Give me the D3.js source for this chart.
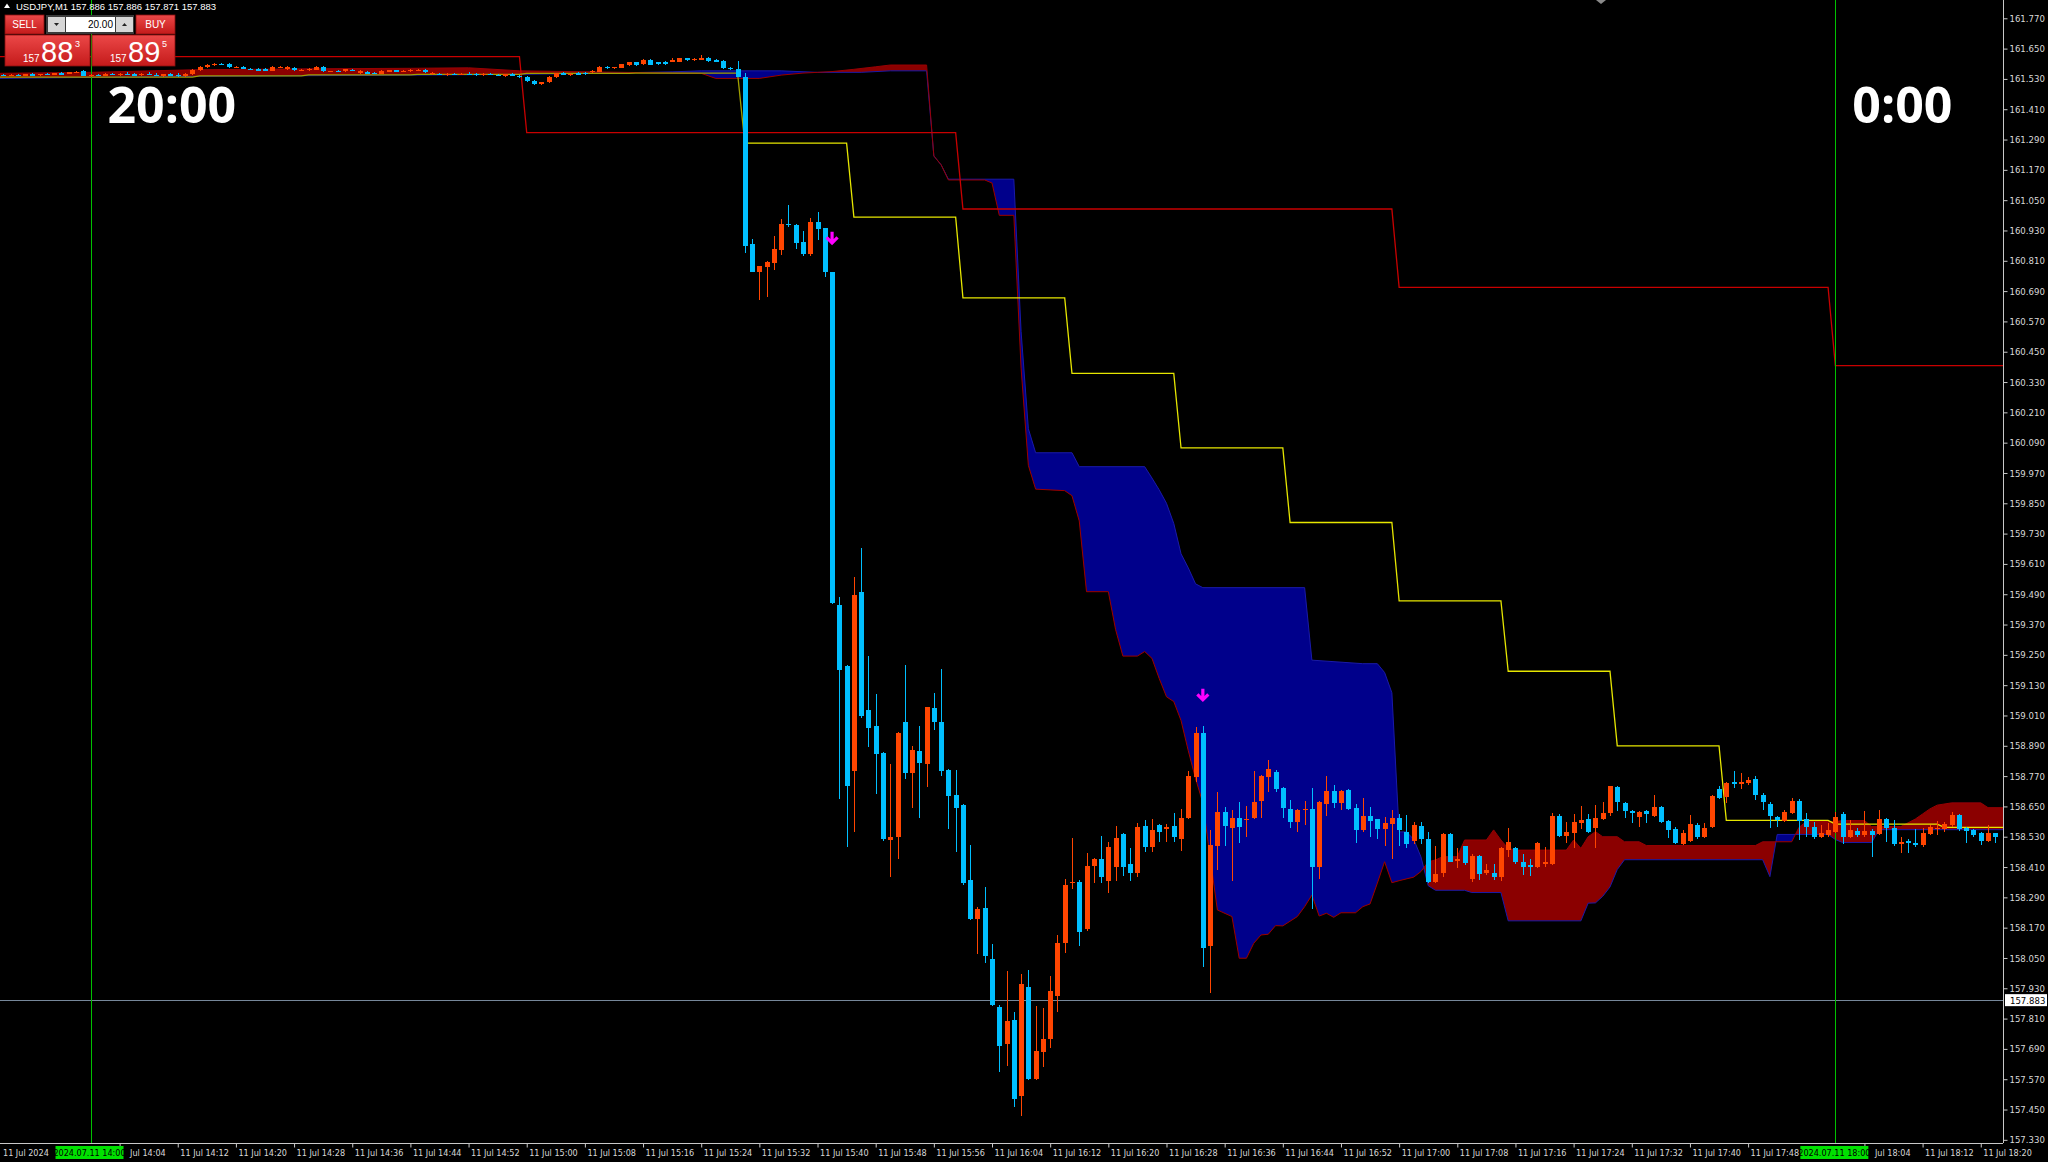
<!DOCTYPE html>
<html>
<head>
<meta charset="utf-8">
<script src="https://cdn.jsdelivr.net/npm/d3@7"></script>
<style>
  body { margin: 0; background: #000; overflow: hidden; }
  svg { display: block; }
</style>
</head>
<body>
<svg id="chart" width="2048" height="1162"></svg>
<script>
// USDJPY M1, 11 Jul 2024. bar k = minute (k - 12) after 14:00
const firstMinute = -12;

var openP = [
161.546,161.543,161.546,161.544,161.548,161.546,161.549,161.547,161.552,161.550,
161.556,161.560,161.542,161.547,161.543,161.549,161.546,161.551,161.548,161.545,
161.550,161.547,161.542,161.548,161.546,161.541,161.549,161.565,161.578,161.585,
161.588,161.588,161.577,161.579,161.571,161.570,161.571,161.563,161.577,161.568,
161.573,161.563,161.565,161.566,161.577,161.560,161.562,161.561,161.567,161.553,
161.559,161.555,161.551,161.562,161.564,161.558,161.561,161.562,161.567,161.551,
161.549,161.547,161.550,161.548,161.551,161.549,161.545,161.550,161.547,161.543,
161.548,161.541,161.537,161.521,161.509,161.516,161.536,161.552,161.546,161.554,
161.553,161.557,161.559,161.579,161.572,161.575,161.585,161.595,161.588,161.605,
161.595,161.595,161.598,161.598,161.611,161.603,161.605,161.611,161.604,161.602,
161.574,161.570,161.539,160.876,160.767,160.787,160.800,160.853,160.955,160.952,
160.883,160.836,160.965,160.939,160.767,159.447,159.206,158.792,159.498,159.030,
158.969,158.863,158.518,158.528,158.984,158.781,158.868,158.819,159.038,158.984,
158.793,158.695,158.656,158.357,158.203,158.247,158.045,157.855,157.709,157.804,
157.505,157.937,157.572,157.679,157.731,157.898,158.108,158.345,158.351,158.163,
158.413,158.440,158.356,158.412,158.541,158.422,158.388,158.573,158.491,158.576,
158.562,158.573,158.520,158.603,158.768,158.939,158.099,158.495,158.629,158.566,
158.605,158.595,158.603,158.672,158.768,158.788,158.722,158.638,158.590,158.636,
158.638,158.412,158.660,158.711,158.665,158.715,158.642,158.557,158.612,158.599,
158.559,158.580,158.605,158.550,158.513,158.573,158.521,158.349,158.385,158.541,
158.436,158.493,158.361,158.454,158.386,158.388,158.369,158.477,158.484,158.431,
158.418,158.409,158.421,158.422,158.612,158.534,158.546,158.583,158.599,158.563,
158.599,158.623,158.728,158.665,158.632,158.609,158.632,158.612,158.649,158.594,
158.559,158.501,158.514,158.576,158.528,158.567,158.718,158.686,158.745,158.737,
158.741,158.757,158.695,158.660,158.609,158.594,158.625,158.671,158.599,158.567,
158.530,158.537,158.550,158.620,158.530,158.554,158.537,158.554,158.541,158.599,
158.563,158.501,158.514,158.506,158.497,158.541,158.563,158.559,158.576,158.616,
158.563,158.557,158.543,158.514,158.543];

var highP = [
161.549,161.548,161.550,161.549,161.552,161.551,161.553,161.555,161.556,161.558,
161.562,161.566,161.550,161.551,161.552,161.554,161.553,161.556,161.553,161.552,
161.556,161.553,161.550,161.555,161.552,161.552,161.568,161.582,161.588,161.592,
161.593,161.592,161.583,161.582,161.575,161.574,161.575,161.580,161.582,161.582,
161.576,161.568,161.574,161.580,161.580,161.563,161.566,161.571,161.569,161.566,
161.562,161.558,161.566,161.566,161.567,161.565,161.568,161.569,161.570,161.556,
161.553,161.552,161.555,161.553,161.556,161.554,161.552,161.555,161.551,161.550,
161.552,161.546,161.540,161.524,161.519,161.542,161.555,161.556,161.554,161.557,
161.557,161.566,161.580,161.583,161.579,161.590,161.597,161.598,161.607,161.608,
161.598,161.599,161.611,161.614,161.614,161.612,161.625,161.618,161.607,161.605,
161.578,161.600,161.555,160.895,160.790,160.810,160.908,160.975,161.031,160.955,
160.929,160.978,161.004,160.940,160.767,159.478,159.210,159.559,159.672,159.246,
159.096,158.866,158.818,158.945,159.210,158.888,158.969,159.045,159.099,159.192,
158.800,158.796,158.660,158.497,158.252,158.331,158.104,157.865,157.999,157.837,
157.987,158.002,157.861,157.850,157.977,158.141,158.364,158.524,158.360,158.464,
158.445,158.533,158.510,158.572,158.546,158.487,158.586,158.596,158.599,158.580,
158.580,158.623,158.639,158.792,158.963,158.968,158.557,158.708,158.649,158.636,
158.669,158.652,158.790,158.775,158.834,158.794,158.725,158.675,158.640,158.671,
158.722,158.670,158.771,158.735,158.715,158.718,158.658,158.685,158.649,158.600,
158.609,158.636,158.620,158.616,158.590,158.590,158.547,158.493,158.545,158.545,
158.484,158.495,158.460,158.458,158.422,158.422,158.491,158.563,158.490,158.462,
158.442,158.510,158.488,158.625,158.620,158.590,158.620,158.652,158.620,158.655,
158.669,158.731,158.731,158.668,158.635,158.630,158.635,158.695,158.652,158.597,
158.567,158.556,158.616,158.583,158.586,158.695,158.731,158.748,158.790,158.781,
158.768,158.770,158.702,158.669,158.612,158.636,158.682,158.678,158.625,158.590,
158.576,158.583,158.629,158.629,158.596,158.563,158.633,158.560,158.636,158.605,
158.596,158.530,158.520,158.560,158.563,158.576,158.593,158.590,158.629,158.620,
158.567,158.560,158.548,158.576,158.546];

var lowP = [
161.541,161.540,161.542,161.541,161.544,161.543,161.545,161.546,161.548,161.549,
161.553,161.540,161.538,161.540,161.541,161.544,161.542,161.546,161.543,161.541,
161.546,161.540,161.538,161.544,161.539,161.538,161.546,161.562,161.574,161.582,
161.584,161.574,161.572,161.568,161.566,161.560,161.560,161.560,161.574,161.566,
161.562,161.560,161.562,161.564,161.558,161.557,161.560,161.558,161.562,161.550,
161.548,161.550,161.549,161.560,161.557,161.556,161.559,161.560,161.555,161.545,
161.544,161.543,161.546,161.544,161.547,161.543,161.541,161.545,161.540,161.539,
161.540,161.535,161.517,161.505,161.506,161.514,161.533,161.544,161.543,161.545,
161.547,161.555,161.557,161.570,161.570,161.573,161.583,161.583,161.586,161.584,
161.585,161.586,161.596,161.596,161.602,161.600,161.603,161.598,161.596,161.570,
161.566,161.537,160.842,160.765,160.655,160.668,160.774,160.833,160.945,160.857,
160.829,160.830,160.892,160.745,159.450,158.680,158.491,158.550,159.000,158.886,
158.699,158.513,158.369,158.442,158.757,158.643,158.603,158.725,158.951,158.771,
158.562,158.468,158.337,158.200,158.066,158.029,157.860,157.600,157.624,157.459,
157.426,157.565,157.568,157.620,157.694,157.835,158.069,158.323,158.096,158.156,
158.346,158.345,158.306,158.356,158.376,158.356,158.369,158.471,158.471,158.510,
158.510,158.510,158.475,158.600,158.748,158.016,157.910,158.398,158.495,158.356,
158.506,158.528,158.600,158.603,158.708,158.708,158.603,158.563,158.550,158.576,
158.243,158.361,158.612,158.642,158.636,158.635,158.506,158.550,158.528,158.521,
158.495,158.442,158.495,158.484,158.500,158.500,158.345,158.345,158.372,158.430,
158.405,158.418,158.350,158.360,158.380,158.359,158.356,158.451,158.422,158.379,
158.375,158.405,158.410,158.418,158.530,158.507,158.484,158.559,158.543,158.484,
158.596,158.612,158.632,158.603,158.583,158.567,158.586,158.610,158.583,158.524,
158.501,158.498,158.510,158.520,158.525,158.563,158.680,158.665,158.722,158.718,
158.735,158.675,158.636,158.563,158.567,158.590,158.620,158.517,158.530,158.520,
158.525,158.530,158.545,158.500,158.525,158.530,158.530,158.451,158.535,158.510,
158.495,158.465,158.465,158.490,158.490,158.535,158.537,158.550,158.570,158.553,
158.507,158.530,158.497,158.510,158.507];

var closeP = [
161.543,161.546,161.544,161.548,161.546,161.549,161.547,161.552,161.550,161.556,
161.559,161.542,161.547,161.543,161.549,161.546,161.551,161.548,161.545,161.550,
161.547,161.542,161.548,161.546,161.541,161.550,161.565,161.578,161.585,161.588,
161.587,161.577,161.579,161.571,161.569,161.562,161.563,161.578,161.579,161.578,
161.565,161.566,161.570,161.576,161.560,161.561,161.561,161.568,161.563,161.562,
161.550,161.552,161.563,161.564,161.558,161.563,161.566,161.567,161.557,161.554,
161.547,161.550,161.548,161.551,161.549,161.545,161.550,161.547,161.543,161.548,
161.541,161.537,161.520,161.509,161.516,161.539,161.552,161.546,161.551,161.547,
161.549,161.563,161.578,161.572,161.577,161.588,161.595,161.585,161.605,161.586,
161.588,161.588,161.604,161.611,161.605,161.609,161.614,161.600,161.598,161.574,
161.570,161.539,160.870,160.767,160.789,160.804,160.857,160.956,160.950,160.879,
160.836,160.965,160.936,160.767,159.455,159.191,158.729,159.487,159.009,158.960,
158.859,158.521,158.530,158.941,158.781,158.874,158.823,159.042,158.984,158.790,
158.692,158.644,158.345,158.203,158.242,158.059,157.862,157.701,157.801,157.490,
157.947,157.570,157.682,157.731,157.920,158.110,158.339,158.350,158.153,158.416,
158.442,158.369,158.491,158.524,158.412,158.388,158.570,158.491,158.557,158.550,
158.568,158.530,158.605,158.771,158.939,158.088,158.497,158.629,158.574,158.605,
158.570,158.600,158.666,158.771,158.797,158.718,158.642,158.590,158.636,158.640,
158.412,158.666,158.711,158.665,158.711,158.638,158.557,158.612,158.592,158.559,
158.586,158.605,158.557,158.500,158.576,158.521,158.349,158.382,158.541,158.431,
158.440,158.427,158.454,158.383,158.399,158.372,158.484,158.510,158.431,158.409,
158.409,158.506,158.431,158.612,158.534,158.550,158.590,158.596,158.550,158.606,
158.625,158.731,158.669,158.633,158.623,158.629,158.619,158.649,158.587,158.557,
158.504,158.543,158.580,158.528,158.566,158.691,158.682,158.744,158.741,158.748,
158.755,158.695,158.669,158.612,158.596,158.629,158.671,158.594,158.567,158.530,
158.543,158.557,158.609,158.530,158.557,158.537,158.554,158.537,158.599,158.563,
158.501,158.510,158.506,158.497,158.543,158.567,158.564,158.580,158.616,158.559,
158.554,158.537,158.514,158.543,158.528];

// Ichimoku cloud spans [minute after 14:00, price]
var spanA = [[-13,161.552],[0,161.556],[14,161.566],[30,161.570],[44,161.572],[52,161.574],
[59,161.562],[71,161.557],[80,161.553],[84,161.552],[86,161.532],[92,161.532],[95,161.545],
[98,161.553],[102,161.559],[105,161.568],[108,161.578],[110,161.585],[115,161.585],
[116,161.225],[117,161.19],[118,161.13],[123,161.13],[124,161.118],[125,160.99],[127,160.99],
[128,160.385],[129,160.0],[130,159.906],[134,159.9],[135,159.88],[136,159.78],[137,159.5],
[140,159.5],[141,159.35],[142,159.245],[144,159.245],[145,159.263],[146,159.236],[147,159.156],
[148,159.084],[149,159.065],[150,158.99],[151,158.87],[152,158.76],[153,158.664],[154,158.45],
[155,158.24],[157,158.214],[158,158.049],[159,158.049],[160,158.108],[161,158.141],[162,158.144],
[163,158.178],[164,158.177],[166,158.214],[167,158.253],[168,158.299],[169,158.216],[170,158.227],
[171,158.211],[172,158.229],[174,158.229],[175,158.253],[176,158.264],[177,158.346],[178,158.431],
[179,158.348],[180,158.356],[182,158.37],[183,158.392],[184,158.431],[185,158.438],[186,158.451],
[188,158.451],[189,158.517],[192,158.517],[193,158.557],[194,158.517],[195,158.484],[196,158.477],
[203,158.477],[204,158.517],[205,158.484],[206,158.53],[207,158.55],[208,158.53],[210,158.53],
[211,158.51],[213,158.51],[214,158.495],[229,158.495],[230,158.51],[234,158.51],[235,158.567],
[236,158.59],[240,158.59],[241,158.594],[244,158.594],[245,158.57],[249,158.57],[250,158.585],
[251,158.6],[252,158.62],[253,158.64],[254,158.655],[256,158.664],[260,158.664],[261,158.645],
[264,158.645]];

var spanB = [[-13,161.532],[0,161.536],[14,161.54],[44,161.545],[59,161.548],[71,161.553],
[80,161.558],[84,161.562],[95,161.562],[100,161.556],[106,161.556],[110,161.562],[115,161.562],
[116,161.225],[117,161.19],[118,161.133],[127,161.133],[128,160.53],[129,160.145],[130,160.05],
[135,160.05],[136,159.995],[145,159.995],[146,159.95],[147,159.903],[148,159.85],[149,159.77],
[150,159.65],[151,159.594],[152,159.531],[153,159.516],[167,159.516],[168,159.229],[175,159.215],
[177,159.215],[178,159.18],[179,159.10],[180,158.549],[181,158.549],[182,158.52],[183,158.45],
[184,158.336],[185,158.318],[189,158.318],[190,158.309],[194,158.309],[195,158.197],[205,158.197],
[206,158.267],[207,158.268],[208,158.294],[209,158.331],[210,158.40],[211,158.439],[230,158.439],
[231,158.372],[232,158.539],[239,158.539],[240,158.519],[241,158.507],[245,158.507],[246,158.558],
[264,158.558]];

// higher timeframe step lines [first minute of step, price]
var redSteps = [[-13,161.618],[60,161.317],[120,161.015],[180,160.705],[240,160.395]];
var yellowSteps = [[-13,161.537],[15,161.542],[30,161.546],[45,161.548],[60,161.552],[75,161.553],
[90,161.276],[105,160.983],[120,160.663],[135,160.364],[150,160.069],[165,159.774],[180,159.464],
[195,159.185],[210,158.89],[225,158.595],[240,158.58],[255,158.567]];
var stepEnd = 264;

var sellArrows = [[102,160.873],[153,159.064]];
var bidPrice = 157.883;
var sessionMarks = [{min: 0, text: "20:00", stamp: "2024.07.11 14:00"}, {min: 240, text: "0:00", stamp: "2024.07.11 18:00"}];

var yTickLabels = ["157.330","157.450","157.570","157.690","157.810","157.930","158.050","158.170",
"158.290","158.410","158.530","158.650","158.770","158.890","159.010","159.130","159.250","159.370",
"159.490","159.610","159.730","159.850","159.970","160.090","160.210","160.330","160.450","160.570",
"160.690","160.810","160.930","161.050","161.170","161.290","161.410","161.530","161.650","161.770"];

var xTickTimes = ["14:04","14:12","14:20","14:28","14:36","14:44","14:52","15:00","15:08","15:16",
"15:24","15:32","15:40","15:48","15:56","16:04","16:12","16:20","16:28","16:36","16:44","16:52",
"17:00","17:08","17:16","17:24","17:32","17:40","17:48","18:04","18:12","18:20"];
var xTickLabels = ["Jul 14:04","11 Jul 14:12","11 Jul 14:20","11 Jul 14:28","11 Jul 14:36","11 Jul 14:44",
"11 Jul 14:52","11 Jul 15:00","11 Jul 15:08","11 Jul 15:16","11 Jul 15:24","11 Jul 15:32","11 Jul 15:40",
"11 Jul 15:48","11 Jul 15:56","11 Jul 16:04","11 Jul 16:12","11 Jul 16:20","11 Jul 16:28","11 Jul 16:36",
"11 Jul 16:44","11 Jul 16:52","11 Jul 17:00","11 Jul 17:08","11 Jul 17:16","11 Jul 17:24","11 Jul 17:32",
"11 Jul 17:40","11 Jul 17:48","Jul 18:04","11 Jul 18:12","11 Jul 18:20"];

// ---------------------------------------------------------------
var W = 2048, H = 1162, plotR = 2003, plotB = 1143;
var base = new Date(2024, 6, 11, 14, 0);
function tAt(m) { return new Date(+base + m * 60000); }
function parseHM(s) { var p = s.split(":"); return (+p[0] - 14) * 60 + (+p[1]); }

var x = d3.scaleTime().domain([tAt(-12.45), tAt(263.06)]).range([0, plotR]);
var y = d3.scaleLinear().domain([157.3175, 161.8424]).range([plotB, 0]);
var xm = function(m) { return x(tAt(m)); };

var svg = d3.select("#chart");
svg.append("rect").attr("width", W).attr("height", H).attr("fill", "#000");

var defs = svg.append("defs");
defs.append("clipPath").attr("id", "plot").append("rect")
    .attr("width", plotR).attr("height", plotB);

var line = d3.line().x(function(d) { return xm(d[0]); }).y(function(d) { return y(d[1]); });

var first = spanA[0][0], last = spanA[spanA.length - 1][0];
defs.append("clipPath").attr("id", "aboveA").append("path")
    .attr("d", line(spanA) + "L" + xm(last) + ",0L" + xm(first) + ",0Z");
defs.append("clipPath").attr("id", "belowA").append("path")
    .attr("d", line(spanA) + "L" + xm(last) + "," + plotB + "L" + xm(first) + "," + plotB + "Z");

var plot = svg.append("g").attr("clip-path", "url(#plot)");

// cloud
var cloud = line(spanA.concat(spanB.slice().reverse())) + "Z";
plot.append("g").attr("clip-path", "url(#aboveA)")
  .append("path").attr("d", cloud).attr("fill", "#00008b");
plot.append("g").attr("clip-path", "url(#belowA)")
  .append("path").attr("d", cloud).attr("fill", "#8b0000");
plot.append("path").attr("d", line(spanB)).attr("fill", "none").attr("stroke", "#1a1aa8").attr("stroke-width", 1);
plot.append("path").attr("d", line(spanA)).attr("fill", "none").attr("stroke", "#9a0000").attr("stroke-width", 1);

function stepPoints(steps) {
  var pts = [];
  steps.forEach(function(s, k) {
    var end = k < steps.length - 1 ? steps[k + 1][0] - 1 : stepEnd;
    pts.push([s[0], s[1]], [end, s[1]]);
  });
  return pts;
}
plot.append("path").attr("d", line(stepPoints(redSteps)))
    .attr("fill", "none").attr("stroke", "#c80000").attr("stroke-width", 1.3);
plot.append("path").attr("d", line(stepPoints(yellowSteps.slice(6))))
    .attr("fill", "none").attr("stroke", "#e6e600").attr("stroke-width", 1.3);
plot.append("path").attr("d", line(stepPoints(yellowSteps.slice(0, 7)).slice(0, 13)))
    .attr("fill", "none").attr("stroke", "#a0a000").attr("stroke-width", 1.3);

// bid line
plot.append("line").attr("x1", 0).attr("x2", plotR)
    .attr("y1", Math.round(y(bidPrice)) + 0.5).attr("y2", Math.round(y(bidPrice)) + 0.5)
    .attr("stroke", "#76879a").attr("stroke-width", 1);

// period separators
plot.selectAll("line.sep").data(sessionMarks).enter().append("line")
    .attr("x1", function(d) { return Math.round(xm(d.min)) + 0.5; })
    .attr("x2", function(d) { return Math.round(xm(d.min)) + 0.5; })
    .attr("y1", 0).attr("y2", plotB)
    .attr("stroke", "#00c000").attr("stroke-width", 1);

// candles
var bars = openP.map(function(o, k) {
  return { m: k + firstMinute, o: o, h: highP[k], l: lowP[k], c: closeP[k] };
});
var bullC = "#ff4500", bearC = "#00bfff";
var cg = plot.append("g").attr("shape-rendering", "crispEdges");
var bar = cg.selectAll("g").data(bars).enter().append("g");
bar.append("line")
    .attr("x1", function(d) { return Math.round(xm(d.m)) + 0.5; })
    .attr("x2", function(d) { return Math.round(xm(d.m)) + 0.5; })
    .attr("y1", function(d) { return y(d.h); })
    .attr("y2", function(d) { return y(d.l); })
    .attr("stroke", function(d) { return d.c >= d.o ? bullC : bearC; });
bar.append("rect")
    .attr("x", function(d) { return Math.round(xm(d.m)) - 2; })
    .attr("width", 5)
    .attr("y", function(d) { return y(Math.max(d.o, d.c)); })
    .attr("height", function(d) { return Math.max(1.2, Math.abs(y(d.o) - y(d.c))); })
    .attr("fill", function(d) { return d.c >= d.o ? bullC : bearC; });

// sell arrows
plot.selectAll("path.arrow").data(sellArrows).enter().append("path")
    .attr("transform", function(d) { return "translate(" + xm(d[0]) + "," + y(d[1]) + ")"; })
    .attr("d", "M0,-13V-2M-5.5,-7.5L0,-2L5.5,-7.5")
    .attr("fill", "none").attr("stroke", "#ff00ff").attr("stroke-width", 3.2)
    .attr("stroke-linejoin", "miter");

// session time labels
svg.selectAll("text.sess").data(sessionMarks).enter().append("text")
    .attr("x", function(d) { return xm(d.min) + 17; })
    .attr("y", 123)
    .attr("fill", "#fff")
    .style("font", "bold 50px 'Open Sans', 'DejaVu Sans', sans-serif")
    .text(function(d) { return d.text; });

// chart shift marker
svg.append("path").attr("d", "M1596,0L1606,0L1601,4Z").attr("fill", "#8a8a8a");

// right price axis
var axisFont = "'Liberation Sans Narrow', 'DejaVu Sans Condensed', sans-serif";
var yAxis = d3.axisRight(y)
    .tickValues(yTickLabels.map(Number))
    .tickFormat(function(d, k) { return yTickLabels[k]; })
    .tickSize(4).tickSizeOuter(0);
var ya = svg.append("g").attr("transform", "translate(" + (plotR + 0.5) + ",0)").call(yAxis);
ya.select(".domain").attr("stroke", "#c8c8c8").attr("d", "M0,0V" + plotB);
ya.selectAll(".tick line").attr("stroke", "#c8c8c8");
ya.selectAll(".tick text").attr("fill", "#d8d8d8").attr("x", 6)
    .style("font-family", axisFont).style("font-size", "9.5px");

// bid label
var bg = svg.append("g").attr("transform", "translate(" + (plotR + 2) + "," + y(bidPrice) + ")");
bg.append("rect").attr("x", 0).attr("y", -6).attr("width", 42).attr("height", 12).attr("fill", "#fff");
bg.append("text").attr("x", 5).attr("y", 3.5).attr("fill", "#000")
    .style("font-family", axisFont).style("font-size", "9.5px").text(bidPrice.toFixed(3));

// bottom time axis
var xAxis = d3.axisBottom(x)
    .tickValues(xTickTimes.map(function(s) { return tAt(parseHM(s)); }))
    .tickFormat(function(d, k) { return xTickLabels[k]; })
    .tickSize(4).tickSizeOuter(0);
var xa = svg.append("g").attr("transform", "translate(0," + (plotB + 0.5) + ")").call(xAxis);
xa.select(".domain").attr("stroke", "#c8c8c8").attr("d", "M0,0H" + plotR);
xa.selectAll(".tick line").attr("stroke", "#c8c8c8");
xa.selectAll(".tick text").attr("fill", "#d8d8d8").attr("text-anchor", "start")
    .attr("x", function(d, k) { return xTickLabels[k].indexOf("Jul") === 0 ? 10 : 2; })
    .attr("y", 6).attr("dy", "0.71em")
    .style("font-family", axisFont).style("font-size", "9px");
svg.append("text").attr("x", 3).attr("y", plotB + 13).attr("fill", "#d8d8d8")
    .style("font-family", axisFont).style("font-size", "9px").text("11 Jul 2024");

var stamps = svg.selectAll("g.stamp").data(sessionMarks).enter().append("g")
    .attr("transform", function(d) { return "translate(" + xm(d.min) + "," + (plotB + 3) + ")"; });
stamps.append("rect").attr("x", -35).attr("y", 0).attr("width", 68).attr("height", 13).attr("fill", "#00e000");
stamps.append("text").attr("x", -1).attr("y", 10).attr("text-anchor", "middle").attr("fill", "#000")
    .style("font-family", axisFont).style("font-size", "9px").text(function(d) { return d.stamp; });

// header and one-click trading panel
var hdr = svg.append("g");
hdr.append("path").attr("d", "M4,8L7,3.5L10,8Z").attr("fill", "#fff");
hdr.append("text").attr("x", 16).attr("y", 10).attr("fill", "#fff")
    .style("font", "9.5px 'Liberation Sans', 'DejaVu Sans', sans-serif")
    .text("USDJPY,M1  157.886 157.886 157.871 157.883");

var grad = defs.append("linearGradient").attr("id", "redg").attr("x1", 0).attr("y1", 0).attr("x2", 0).attr("y2", 1);
grad.append("stop").attr("offset", 0).attr("stop-color", "#ec4848");
grad.append("stop").attr("offset", 1).attr("stop-color", "#c41a1a");

var panel = svg.append("g").style("font-family", "'Liberation Sans', 'DejaVu Sans', sans-serif");
[[5, 44], [136, 175]].forEach(function(b) {
  panel.append("rect").attr("x", b[0]).attr("y", 15).attr("width", b[1] - b[0]).attr("height", 19)
      .attr("fill", "url(#redg)").attr("stroke", "#8a1010").attr("stroke-width", 0.8);
});
panel.append("text").attr("x", 24.5).attr("y", 28).attr("text-anchor", "middle").attr("fill", "#fff")
    .style("font-size", "10px").text("SELL");
panel.append("text").attr("x", 155.5).attr("y", 28).attr("text-anchor", "middle").attr("fill", "#fff")
    .style("font-size", "10px").text("BUY");
panel.append("rect").attr("x", 46).attr("y", 15).attr("width", 88).attr("height", 19).attr("fill", "#3a3a3a");
panel.append("rect").attr("x", 48).attr("y", 17).attr("width", 17).attr("height", 15).attr("fill", "#d6d6d6");
panel.append("rect").attr("x", 116).attr("y", 17).attr("width", 17).attr("height", 15).attr("fill", "#d6d6d6");
panel.append("rect").attr("x", 66).attr("y", 17).attr("width", 49).attr("height", 15).attr("fill", "#fff");
panel.append("path").attr("d", "M54,23L59,23L56.5,26Z").attr("fill", "#222");
panel.append("path").attr("d", "M122,26L127,26L124.5,23Z").attr("fill", "#222");
panel.append("text").attr("x", 113).attr("y", 28).attr("text-anchor", "end").attr("fill", "#000")
    .style("font-size", "10px").text("20.00");

var quotes = [{x0: 5, x1: 90, big: "88", pip: "3"}, {x0: 92, x1: 175, big: "89", pip: "5"}];
quotes.forEach(function(q) {
  panel.append("rect").attr("x", q.x0).attr("y", 35).attr("width", q.x1 - q.x0).attr("height", 31)
      .attr("fill", "url(#redg)").attr("stroke", "#8a1010").attr("stroke-width", 0.8);
  panel.append("text").attr("x", q.x0 + 18).attr("y", 62).attr("fill", "#fff")
      .style("font-size", "10px").text("157");
  panel.append("text").attr("x", q.x0 + 36).attr("y", 62).attr("fill", "#fff")
      .style("font-size", "29px").text(q.big);
  panel.append("text").attr("x", q.x0 + 70).attr("y", 47).attr("fill", "#fff")
      .style("font-size", "9px").text(q.pip);
});
</script>
</body>
</html>
